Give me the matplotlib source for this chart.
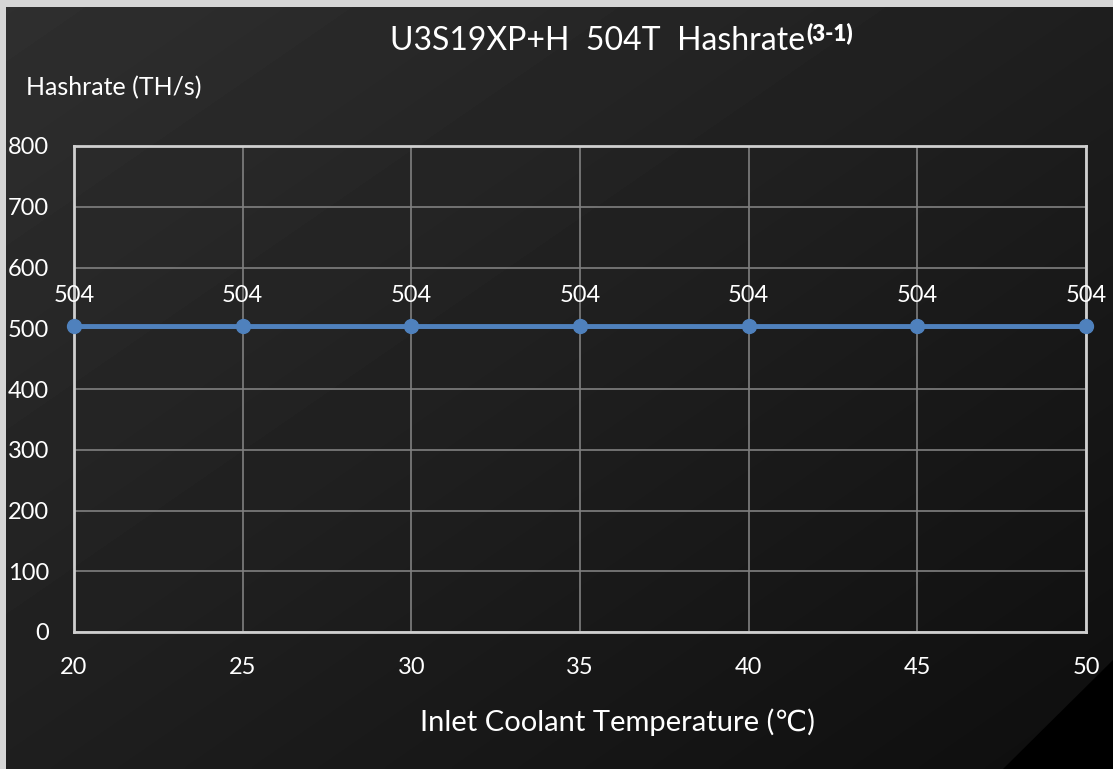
import matplotlib
matplotlib.use("Agg")
import matplotlib.pyplot as plt
import numpy as np
from matplotlib.patches import Rectangle, Polygon

plt.rcParams['font.family'] = ['Lato', 'DejaVu Sans']

temps = [20, 25, 30, 35, 40, 45, 50]
hashrate = [504, 504, 504, 504, 504, 504, 504]
yticks = [0, 100, 200, 300, 400, 500, 600, 700, 800]
xticks = [20, 25, 30, 35, 40, 45, 50]

W, H = 1113, 769
fig = plt.figure(figsize=(W / 100, H / 100), dpi=100)

# background
bg = fig.add_axes([0, 0, 1, 1], zorder=0)
bg.set_xlim(0, W)
bg.set_ylim(H, 0)
bg.axis('off')
yy, xx = np.mgrid[0:H:4, 0:W:4]
t = (xx / W + yy / H) / 2.0
img = 0.185 - 0.13 * t
bg.imshow(img, cmap='gray', vmin=0, vmax=1, extent=[0, W, H, 0], aspect='auto', interpolation='bilinear')
bg.add_patch(Polygon([[1113, 660], [1003, 769], [1113, 769]], closed=True, color='black', lw=0))
bg.add_patch(Rectangle((0, 0), W, 7, color='#d6d6d6', lw=0))
bg.add_patch(Rectangle((0, 0), 6, H, color='#d6d6d6', lw=0))

ax = fig.add_axes([74 / W, 1 - 632 / H, (1086 - 74) / W, (632 - 146) / H], zorder=1)
ax.set_facecolor('none')
ax.set_xlim(20, 50)
ax.set_ylim(0, 800)
ax.set_xticks(xticks)
ax.set_yticks(yticks)
ax.grid(True, color='#808080', lw=1.2)
for s in ax.spines.values():
    s.set_color('#cfcfcf')
    s.set_linewidth(2)
ax.tick_params(length=0, colors='white', labelsize=17)
ax.tick_params(axis='x', pad=18)
ax.tick_params(axis='y', pad=18)

ax.plot(temps, hashrate, color='#4f81bd', lw=3.5, marker='o', markersize=10,
        clip_on=False, zorder=3)
for x, y in zip(temps, hashrate):
    ax.annotate(str(y), (x, y), xytext=(0, 22), textcoords='offset points',
                ha='center', va='center', color='white', fontsize=17)

fig.text(617 / W, 1 - 722 / H, 'Inlet Coolant Temperature (℃)', ha='center', va='center',
         color='white', fontsize=21)
fig.text(26 / W, 1 - 88 / H, 'Hashrate (TH/s)', ha='left', va='center', color='white', fontsize=18)
fig.text(805 / W, 1 - 50 / H, 'U3S19XP+H  504T  Hashrate',
         ha='right', va='baseline', color='white', fontsize=23)
fig.text(806 / W, 1 - 40 / H, '(3-1)',
         ha='left', va='baseline', color='white', fontsize=16, fontweight='heavy')

fig.savefig('out.png', dpi=100)
